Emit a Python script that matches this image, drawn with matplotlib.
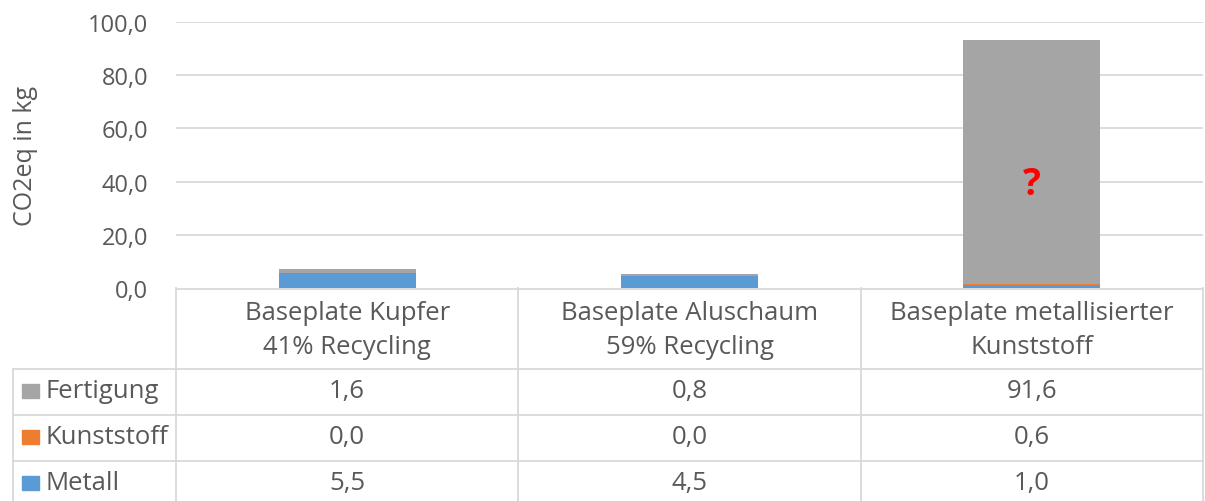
import matplotlib.pyplot as plt
from matplotlib.patches import Rectangle

plt.rcParams['font.family'] = ['Open Sans', 'DejaVu Sans']

kategorien = ["Baseplate Kupfer\n41% Recycling",
              "Baseplate Aluschaum\n59% Recycling",
              "Baseplate metallisierter\nKunststoff"]
serien = ["Fertigung", "Kunststoff", "Metall"]
metall = [5.5, 4.5, 1.0]
kunststoff = [0.0, 0.0, 0.6]
fertigung = [1.6, 0.8, 91.6]
y_ticks = [0, 20, 40, 60, 80, 100]

FARBEN = {"Metall": "#5B9BD5", "Kunststoff": "#ED7D31", "Fertigung": "#A5A5A5"}
TEXT = "#595959"
LINIE = "#D9D9D9"
W, H = 1205, 502
FS = 18.5


def komma(v):
    return f"{v:.1f}".replace(".", ",")


fig = plt.figure(figsize=(W / 100, H / 100), dpi=100)


def px_axes(x0, y0, x1, y1):
    return fig.add_axes([x0 / W, 1 - y1 / H, (x1 - x0) / W, (y1 - y0) / H])


# Diagramm
ax = px_axes(176, 23, 1203, 289)
x = list(range(len(kategorien)))
unten = [0] * len(x)
for name, werte in [("Metall", metall), ("Kunststoff", kunststoff), ("Fertigung", fertigung)]:
    ax.bar(x, werte, width=0.4, bottom=unten, color=FARBEN[name], zorder=3)
    unten = [u + w for u, w in zip(unten, werte)]

ax.set_xlim(-0.5, len(x) - 0.5)
ax.set_ylim(0, 100)
ax.set_yticks(y_ticks)
ax.set_yticklabels([komma(t) for t in y_ticks])
ax.tick_params(axis="y", length=0, pad=20, labelsize=17, labelcolor=TEXT)
ax.set_xticks([])
for t in y_ticks[1:]:
    ax.axhline(t, color=LINIE, lw=1.3, zorder=1)
for s in ax.spines.values():
    s.set_visible(False)
ax.text(2, 39, "?", color="red", fontsize=27, fontweight="bold",
        ha="center", va="center", zorder=4)
fig.text(25 / W, 1 - 156 / H, "CO2eq in kg", rotation=90, ha="center",
         va="center", fontsize=18, color=TEXT)

# Datentabelle
tax = px_axes(13, 289, 1203, 502)
spalte = 1027 / 3


def ux(px):
    return (px - 176) / spalte - 0.5


links = ux(13)
tax.set_xlim(links, len(x) - 0.5)
tax.set_ylim(213, 0)
tax.axis("off")

kopf = 81
zeile = 46
kw = dict(color=LINIE, lw=1.3, clip_on=False)
tax.plot([-0.5, len(x) - 0.5], [0.5, 0.5], **kw)
for r in range(len(serien)):
    yy = kopf + r * zeile
    tax.plot([links, len(x) - 0.5], [yy, yy], **kw)
tax.plot([links, links], [kopf, 213], **kw)
for i in range(len(x) + 1):
    tax.plot([i - 0.5, i - 0.5], [0, 213], **kw)

for i, kat in enumerate(kategorien):
    tax.text(i, kopf / 2 + 1, kat, ha="center", va="center", fontsize=FS,
             color=TEXT, linespacing=1.44)

werte_tabelle = {"Fertigung": fertigung, "Kunststoff": kunststoff, "Metall": metall}
for r, name in enumerate(serien):
    ym = kopf + r * zeile + zeile / 2 - 1
    tax.add_patch(Rectangle((ux(22), ym - 7), ux(39) - ux(22), 14,
                            color=FARBEN[name], clip_on=False))
    tax.text(ux(45), ym, name, ha="left", va="center", fontsize=FS, color=TEXT)
    for i, v in enumerate(werte_tabelle[name]):
        tax.text(i, ym, komma(v), ha="center", va="center", fontsize=FS, color=TEXT)

fig.savefig("out.png", dpi=100)
